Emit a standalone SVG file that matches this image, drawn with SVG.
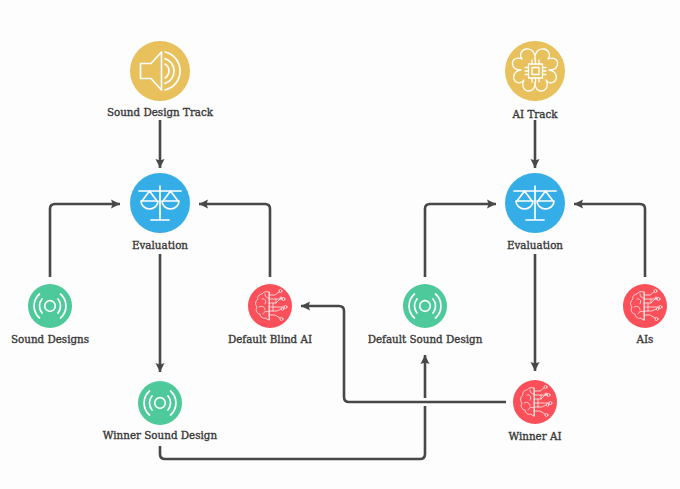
<svg xmlns="http://www.w3.org/2000/svg" width="680" height="489" viewBox="0 0 680 489">
<style>
.bg{fill:#fdfdfd}
.lbl{font-family:"DejaVu Serif","Liberation Serif",serif;font-size:10.35px;font-weight:400;fill:#383838;text-anchor:middle;stroke:#383838;stroke-width:.35px}
.c{fill:none;stroke:#484848;stroke-width:2.6;stroke-linejoin:round}
.i{fill:none;stroke:#fff;stroke-width:1.7;stroke-linecap:round;stroke-linejoin:round}
.t{fill:none;stroke:#fff;stroke-width:.8;stroke-linecap:round;stroke-linejoin:round;opacity:.9}
.y{fill:#e8c05c}.b{fill:#35ade6}.g{fill:#4dc99b}.r{fill:#fb5059}
</style>
<defs>
<marker id="a" markerUnits="userSpaceOnUse" markerWidth="10" markerHeight="10" refX="9" refY="5" orient="auto"><path d="M0 .5L9 5L0 9.500L1.500 5Z" fill="#484848"/></marker>
<g id="scale" class="i"><path d="M-21-12H21M0-17V17M-9 17H9"/><path d="M-10.500-12L-18-2M-10.500-12L-3-2M10.500-12L3-2M10.500-12L18-2"/><path d="M-19-2H-2A8.500 8 0 0 1-19-2ZM2-2H19A8.500 8 0 0 1 2-2Z"/></g>
<g id="wave" class="i"><circle r="5.300"/><path d="M-8-7A11 11 0 0 0-8 7M8-7A11 11 0 0 1 8 7M-10.500-12A16 16 0 0 0-10.500 12M10.500-12A16 16 0 0 1 10.500 12"/></g>
<g id="aibrain" class="t"><path d="M-1-14C-4-15-7-14-8-12C-11-12-13-9-12-7C-15-5-15-1-13 1C-15 4-13 8-10 8C-10 11-7 13-4 12C-3 14-1 14-1 14Z"/><path d="M-1-14V14M-8-7C-5-8-3-5-5-2M-11 1C-8-1-5 1-5 4M-5-12C-5-9-3-8-1-8M-7 8C-6 5-3 5-1 6"/><path d="M-1-11H5L9-14M-1-7H12M-1-3H6L10-7M-1 1H14M-1 5H7L11 3M-1 9H5L10 12M3-3V5M6-7V-3"/><circle cx="10.500" cy="-15" r="1.500"/><circle cx="13.500" cy="-7" r="1.500"/><circle cx="11" cy="-8" r="1"/><circle cx="15.500" cy="1" r="1.500"/><circle cx="12.500" cy="3" r="1.300"/><circle cx="11.500" cy="13" r="1.500"/></g>
</defs>
<rect class="bg" width="680" height="489"/>
<g id="connectors">
<path class="c" marker-end="url(#a)" d="M160 120V168"/>
<path class="c" marker-end="url(#a)" d="M50 277V209Q50 204 55 204H120"/>
<path class="c" marker-end="url(#a)" d="M270 277V209Q270 204 265 204H199"/>
<path class="c" marker-end="url(#a)" d="M160 254V372"/>
<path class="c" d="M160 446V454Q160 459 165 459H420Q425 459 425 454V406"/>
<path class="c" marker-end="url(#a)" d="M425 398V355"/>
<path class="c" marker-end="url(#a)" d="M506 402H349Q344 402 344 397V311Q344 306 339 306H301"/>
<path class="c" marker-end="url(#a)" d="M535 120V168"/>
<path class="c" marker-end="url(#a)" d="M425 277V209Q425 204 430 204H496"/>
<path class="c" marker-end="url(#a)" d="M645 277V209Q645 204 640 204H574"/>
<path class="c" marker-end="url(#a)" d="M535 254V371"/>
</g>
<g id="sound-track"><circle class="y" cx="160" cy="71" r="30"/><g class="i"><path d="M140.500 63.500H151L161.500 52V90L151 78.500H140.500Z"/><path d="M165 64.100A8 8 0 0 1 165 77.900M165 58.600A13 13 0 0 1 165 83.400M165 52A19.500 19.500 0 0 1 165 90"/></g><text class="lbl" x="160" y="115.500">Sound Design Track</text></g>
<g id="ai-track"><circle class="y" cx="535" cy="71" r="30"/><g class="i" style="stroke-width:1.300"><path d="M535 61C536 52 531 48 526 49C521 50 519 55 522 59C515 56 511 61 513 66C514 69 518 70 521 70C514 71 512 77 515 81C518 84 522 83 524 80C521 86 524 91 529 91C533 91 535 87 535 82C535 87 537 91 541 91C546 91 549 86 546 80C548 83 552 84 555 81C558 77 556 71 549 70C552 70 556 69 557 66C559 61 555 56 548 59C551 55 549 50 544 49C539 48 534 52 535 61Z"/><rect x="528.500" y="64" width="14" height="14"/><rect x="532" y="67.500" width="7" height="7"/><path d="M532 64V60M535.500 64V60M539 64V60M532 78V82M535.500 78V82M539 78V82M528.500 67.500H525M528.500 71H525M528.500 74.500H525M542.500 67.500H546M542.500 71H546M542.500 74.500H546"/></g><text class="lbl" x="535" y="117.500">AI Track</text></g>
<g id="eval-left"><circle class="b" cx="160" cy="203" r="30"/><use href="#scale" x="160" y="203"/><text class="lbl" x="160" y="248.500">Evaluation</text></g>
<g id="eval-right"><circle class="b" cx="535" cy="203" r="30"/><use href="#scale" x="535" y="203"/><text class="lbl" x="535" y="248.500">Evaluation</text></g>
<g id="sound-designs"><circle class="g" cx="50" cy="306" r="22"/><use href="#wave" x="50" y="306"/><text class="lbl" x="50" y="343">Sound Designs</text></g>
<g id="default-blind-ai"><circle class="r" cx="270" cy="306" r="22"/><use href="#aibrain" x="270" y="306"/><text class="lbl" x="270" y="343">Default Blind AI</text></g>
<g id="default-sound-design"><circle class="g" cx="425" cy="306" r="22"/><use href="#wave" x="425" y="306"/><text class="lbl" x="425" y="343">Default Sound Design</text></g>
<g id="ais"><circle class="r" cx="645" cy="306" r="22"/><use href="#aibrain" x="645" y="306"/><text class="lbl" x="645" y="343">AIs</text></g>
<g id="winner-sound-design"><circle class="g" cx="160" cy="403" r="22"/><use href="#wave" x="160" y="403"/><text class="lbl" x="160" y="439">Winner Sound Design</text></g>
<g id="winner-ai"><circle class="r" cx="535" cy="402" r="22"/><use href="#aibrain" x="535" y="402"/><text class="lbl" x="535" y="440">Winner AI</text></g>
</svg>
